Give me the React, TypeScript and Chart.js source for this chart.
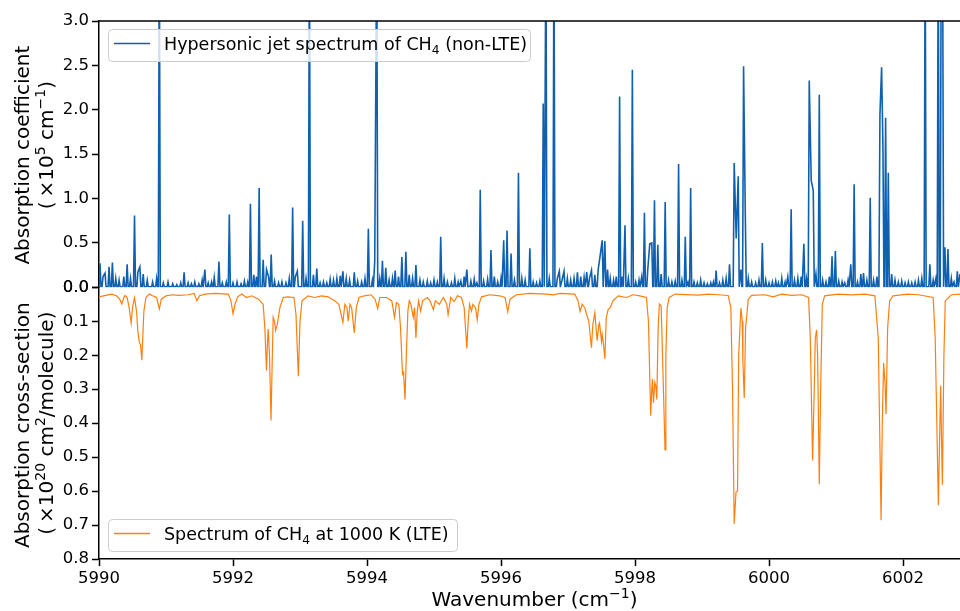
import { useEffect, useRef } from 'react';
import { Chart, registerables } from 'chart.js';

Chart.register(...registerables);

// ---- Hypersonic jet spectrum (non-LTE): line centres [cm^-1] and peak absorption [1e5 cm^-1]
const jetLinePositions: number[] = [
  5990.015, 5990.06, 5990.09, 5990.15, 5990.20, 5990.25, 5990.30, 5990.37, 5990.42, 5990.47, 5990.53, 5990.58, 5990.61, 5990.66, 5990.72, 5990.80, 5990.86, 5990.90, 5990.96,
  5991.03, 5991.10, 5991.16, 5991.22, 5991.27, 5991.33, 5991.38, 5991.43, 5991.49, 5991.54, 5991.58, 5991.63, 5991.68, 5991.72, 5991.79, 5991.84, 5991.90, 5991.945,
  5992.00, 5992.06, 5992.12, 5992.17, 5992.22, 5992.26, 5992.31, 5992.35, 5992.39, 5992.45, 5992.50, 5992.53, 5992.57, 5992.62, 5992.68, 5992.73, 5992.79, 5992.84, 5992.89, 5992.93, 5992.96,
  5993.04, 5993.09, 5993.14, 5993.20, 5993.25, 5993.30, 5993.35, 5993.40, 5993.45, 5993.50, 5993.55, 5993.60, 5993.64, 5993.69, 5993.74, 5993.81, 5993.86, 5993.92, 5993.97,
  5994.02, 5994.08, 5994.115, 5994.145, 5994.19, 5994.23, 5994.28, 5994.33, 5994.38, 5994.42, 5994.47, 5994.52, 5994.58, 5994.63, 5994.68, 5994.73, 5994.79, 5994.84, 5994.90, 5994.95,
  5995.00, 5995.05, 5995.10, 5995.15, 5995.20, 5995.26, 5995.31, 5995.36, 5995.40, 5995.45, 5995.49, 5995.55, 5995.60, 5995.64, 5995.69, 5995.74, 5995.80, 5995.85, 5995.90, 5995.95,
  5996.00, 5996.04, 5996.09, 5996.15, 5996.20, 5996.26, 5996.31, 5996.36, 5996.43, 5996.48, 5996.53, 5996.58, 5996.63, 5996.67, 5996.72, 5996.79, 5996.84, 5996.87, 5996.91, 5996.94, 5996.99,
  5997.04, 5997.09, 5997.14, 5997.19, 5997.24, 5997.28, 5997.32, 5997.35, 5997.40, 5997.45, 5997.48, 5997.51, 5997.55, 5997.59, 5997.63, 5997.68, 5997.72, 5997.77, 5997.81, 5997.85, 5997.90, 5997.96,
  5998.01, 5998.06, 5998.10, 5998.14, 5998.19, 5998.22, 5998.25, 5998.29, 5998.34, 5998.39, 5998.45, 5998.50, 5998.55, 5998.60, 5998.65, 5998.70, 5998.75, 5998.79, 5998.83, 5998.88, 5998.93, 5998.98,
  5999.03, 5999.08, 5999.13, 5999.17, 5999.21, 5999.26, 5999.31, 5999.36, 5999.41, 5999.48, 5999.51, 5999.54, 5999.58, 5999.62, 5999.645, 5999.69, 5999.74, 5999.80, 5999.85, 5999.90, 5999.95,
  6000.00, 6000.05, 6000.10, 6000.14, 6000.19, 6000.24, 6000.28, 6000.33, 6000.38, 6000.43, 6000.48, 6000.52, 6000.56, 6000.60, 6000.63, 6000.66, 6000.70, 6000.75, 6000.80, 6000.85, 6000.90, 6000.94, 6000.99,
  6001.04, 6001.09, 6001.13, 6001.18, 6001.22, 6001.27, 6001.32, 6001.37, 6001.41, 6001.46, 6001.51, 6001.56, 6001.61, 6001.655, 6001.68, 6001.70, 6001.74, 6001.78, 6001.83, 6001.88, 6001.93, 6001.98,
  6002.03, 6002.08, 6002.13, 6002.18, 6002.23, 6002.28, 6002.33, 6002.40, 6002.45, 6002.49, 6002.525, 6002.57, 6002.59, 6002.625, 6002.67, 6002.72, 6002.76, 6002.81, 6002.85,
];
const jetLineHeights: number[] = [
  0.27, 0.12, 0.16, 0.23, 0.28, 0.10, 0.08, 0.12, 0.26, 0.10, 0.81, 0.17, 0.23, 0.15, 0.08, 0.06, 0.10, 4.0, 0.05,
  0.06, 0.04, 0.03, 0.05, 0.17, 0.05, 0.04, 0.06, 0.04, 0.08, 0.20, 0.05, 0.06, 0.11, 0.29, 0.05, 0.06, 0.82,
  0.05, 0.06, 0.04, 0.07, 0.06, 0.94, 0.14, 0.12, 1.12, 0.31, 0.20, 0.12, 0.37, 0.07, 0.05, 0.06, 0.05, 0.10, 0.90, 0.12, 0.18,
  0.75, 0.10, 4.0, 0.14, 0.21, 0.05, 0.06, 0.05, 0.09, 0.08, 0.10, 0.13, 0.18, 0.10, 0.08, 0.17, 0.07, 0.06, 0.10,
  0.66, 0.08, 0.29, 4.0, 0.10, 0.30, 0.22, 0.08, 0.10, 0.19, 0.12, 0.34, 0.40, 0.14, 0.10, 0.25, 0.08, 0.06, 0.07, 0.05,
  0.08, 0.06, 0.57, 0.10, 0.06, 0.05, 0.10, 0.06, 0.07, 0.12, 0.20, 0.07, 0.09, 0.05, 1.10, 0.07, 0.09, 0.42, 0.12, 0.06,
  0.10, 0.53, 0.64, 0.38, 0.08, 1.29, 0.10, 0.08, 0.44, 0.06, 0.05, 0.07, 2.07, 4.0, 0.10, 4.0, 0.10, 0.18, 0.08, 0.18, 0.10,
  0.08, 0.10, 0.17, 0.12, 0.11, 0.17, 0.10, 0.19, 0.14, 0.20, 0.36, 0.53, 0.52, 0.20, 0.10, 0.08, 0.12, 2.15, 0.12, 0.70, 0.10, 2.45,
  0.06, 0.08, 0.12, 0.84, 0.20, 0.49, 0.50, 0.98, 0.48, 0.15, 0.96, 0.08, 0.06, 0.07, 1.39, 0.08, 0.57, 0.06, 1.12, 0.06, 0.05, 0.08,
  0.05, 0.04, 0.05, 0.06, 0.19, 0.05, 0.08, 0.10, 0.26, 1.40, 0.55, 1.25, 0.20, 2.49, 0.86, 0.10, 0.06, 0.05, 0.08, 0.50, 0.08,
  0.05, 0.06, 0.07, 0.05, 0.10, 0.06, 0.12, 0.88, 0.08, 0.10, 0.12, 0.49, 0.10, 2.33, 1.20, 1.09, 0.15, 2.17, 0.08, 0.06, 0.12, 0.35, 0.41,
  0.07, 0.06, 0.05, 0.08, 0.26, 1.16, 0.06, 0.15, 0.16, 0.08, 1.01, 0.08, 0.12, 1.94, 2.48, 1.58, 1.91, 1.29, 0.15, 0.08, 0.06, 0.07,
  0.05, 0.06, 0.05, 0.06, 0.08, 0.10, 4.0, 0.26, 0.08, 0.10, 4.0, 4.0, 4.0, 0.45, 0.43, 0.10, 0.06, 0.18, 0.15,
];
const jetFloor = 0.005;
const jetHalfWidth = 0.015;

// ---- CH4 at 1000 K (LTE): cross-section [1e-20 cm^2/molecule]
const lteWavenumbers: number[] = [
  5990.00, 5990.10, 5990.19, 5990.26, 5990.31, 5990.34, 5990.37, 5990.39,
  5990.42, 5990.45, 5990.48, 5990.50, 5990.53, 5990.56, 5990.58, 5990.60,
  5990.62, 5990.64, 5990.655, 5990.67, 5990.70, 5990.75, 5990.80, 5990.86,
  5990.90, 5990.93, 5991.00, 5991.10, 5991.18, 5991.33, 5991.42, 5991.46,
  5991.50, 5991.58, 5991.73, 5991.93, 5991.97, 5992.00, 5992.03, 5992.07,
  5992.13, 5992.20, 5992.28, 5992.38, 5992.45, 5992.475, 5992.50, 5992.515,
  5992.525, 5992.545, 5992.567, 5992.587, 5992.60, 5992.62, 5992.635, 5992.66,
  5992.70, 5992.75, 5992.82, 5992.91, 5992.94, 5992.975, 5993.00, 5993.03,
  5993.12, 5993.22, 5993.32, 5993.42, 5993.52, 5993.58, 5993.64, 5993.67,
  5993.70, 5993.72, 5993.745, 5993.77, 5993.81, 5993.84, 5993.88, 5993.96,
  5994.06, 5994.12, 5994.16, 5994.19, 5994.29, 5994.37, 5994.41, 5994.44,
  5994.475, 5994.50, 5994.53, 5994.545, 5994.567, 5994.59, 5994.61, 5994.63,
  5994.655, 5994.69, 5994.71, 5994.73, 5994.75, 5994.77, 5994.80, 5994.83,
  5994.90, 5994.94, 5994.99, 5995.02, 5995.08, 5995.14, 5995.19, 5995.21,
  5995.25, 5995.30, 5995.35, 5995.41, 5995.45, 5995.47, 5995.49, 5995.51,
  5995.53, 5995.56, 5995.58, 5995.62, 5995.645, 5995.67, 5995.71, 5995.83,
  5995.98, 5996.06, 5996.10, 5996.135, 5996.23, 5996.43, 5996.68, 5996.78,
  5996.88, 5997.10, 5997.15, 5997.18, 5997.21, 5997.25, 5997.27, 5997.31,
  5997.35, 5997.37, 5997.40, 5997.41, 5997.435, 5997.46, 5997.47, 5997.50,
  5997.51, 5997.53, 5997.55, 5997.57, 5997.60, 5997.63, 5997.67, 5997.75,
  5997.87, 5997.97, 5998.07, 5998.17, 5998.20, 5998.234, 5998.25, 5998.26,
  5998.275, 5998.295, 5998.31, 5998.325, 5998.345, 5998.363, 5998.39, 5998.41,
  5998.448, 5998.46, 5998.48, 5998.51, 5998.60, 5998.945, 5999.09, 5999.24,
  5999.39, 5999.43, 5999.455, 5999.48, 5999.507, 5999.53, 5999.547, 5999.58,
  5999.60, 5999.61, 5999.63, 5999.65, 5999.69, 5999.74, 5999.94, 6000.06,
  6000.19, 6000.34, 6000.49, 6000.59, 6000.616, 6000.65, 6000.675, 6000.69,
  6000.71, 6000.725, 6000.75, 6000.77, 6000.795, 6000.83, 6001.03, 6001.23,
  6001.43, 6001.58, 6001.63, 6001.672, 6001.69, 6001.71, 6001.73, 6001.746,
  6001.77, 6001.80, 6001.85, 6002.07, 6002.23, 6002.45, 6002.48, 6002.527,
  6002.55, 6002.562, 6002.57, 6002.587, 6002.61, 6002.63, 6002.72, 6002.85,
];
const lteCrossSections: number[] = [
  0.028, 0.024, 0.020, 0.025, 0.035, 0.049, 0.030, 0.024,
  0.030, 0.060, 0.105, 0.060, 0.031, 0.070, 0.130, 0.160,
  0.170, 0.215, 0.140, 0.070, 0.030, 0.020, 0.025, 0.030,
  0.064, 0.035, 0.025, 0.022, 0.024, 0.022, 0.018, 0.040,
  0.025, 0.020, 0.018, 0.020, 0.040, 0.078, 0.050, 0.028,
  0.020, 0.030, 0.025, 0.035, 0.050, 0.120, 0.245, 0.160,
  0.123, 0.200, 0.392, 0.200, 0.088, 0.100, 0.127, 0.110,
  0.060, 0.030, 0.028, 0.030, 0.080, 0.262, 0.100, 0.040,
  0.025, 0.030, 0.025, 0.028, 0.040, 0.050, 0.103, 0.050,
  0.060, 0.100, 0.050, 0.060, 0.134, 0.060, 0.030, 0.025,
  0.022, 0.035, 0.063, 0.030, 0.030, 0.040, 0.088, 0.045,
  0.050, 0.120, 0.255, 0.250, 0.330, 0.180, 0.070, 0.040,
  0.050, 0.088, 0.060, 0.149, 0.070, 0.040, 0.070, 0.040,
  0.030, 0.040, 0.066, 0.040, 0.050, 0.030, 0.050, 0.080,
  0.030, 0.042, 0.025, 0.030, 0.060, 0.120, 0.180, 0.100,
  0.050, 0.070, 0.050, 0.060, 0.096, 0.050, 0.028, 0.022,
  0.025, 0.030, 0.072, 0.035, 0.022, 0.018, 0.020, 0.022,
  0.018, 0.020, 0.040, 0.071, 0.050, 0.060, 0.075, 0.100,
  0.178, 0.110, 0.075, 0.100, 0.157, 0.110, 0.105, 0.160,
  0.140, 0.170, 0.210, 0.090, 0.065, 0.060, 0.040, 0.025,
  0.030, 0.022, 0.025, 0.030, 0.100, 0.378, 0.300, 0.270,
  0.340, 0.280, 0.290, 0.330, 0.120, 0.049, 0.055, 0.200,
  0.479, 0.200, 0.060, 0.030, 0.020, 0.023, 0.020, 0.022,
  0.024, 0.060, 0.300, 0.696, 0.603, 0.600, 0.200, 0.061,
  0.100, 0.220, 0.326, 0.120, 0.035, 0.024, 0.022, 0.028,
  0.020, 0.024, 0.022, 0.030, 0.150, 0.510, 0.300, 0.150,
  0.125, 0.200, 0.580, 0.300, 0.050, 0.025, 0.020, 0.022,
  0.020, 0.025, 0.150, 0.686, 0.400, 0.223, 0.280, 0.373,
  0.120, 0.040, 0.025, 0.020, 0.022, 0.030, 0.150, 0.642,
  0.400, 0.289, 0.400, 0.581, 0.200, 0.040, 0.022, 0.020,
];

// ---- Axis ticks
const xTickValues = [5990, 5992, 5994, 5996, 5998, 6000, 6002];
const topTickValues = [0, 0.5, 1.0, 1.5, 2.0, 2.5, 3.0];
const bottomTickValues = [0, 0.1, 0.2, 0.3, 0.4, 0.5, 0.6, 0.7, 0.8];

const X_MIN = 5990;
const X_MAX = 6002.85;

const FONT = '"DejaVu Sans", "Liberation Sans", sans-serif';
const JET_COLOR = '#1060b0';
const LTE_COLOR = '#ff7f0e';
const TICK_SIZE = 16.5;
const TITLE_SIZE = 20;
const LEGEND_SIZE = 17.5;

type Run = { text: string; shift?: 'sup' | 'sub' };

const topTitle1: Run[] = [{ text: 'Absorption coefficient' }];
const topTitle2: Run[] = [
  { text: '(\u2009×10' }, { text: '5', shift: 'sup' }, { text: ' cm' }, { text: '−1', shift: 'sup' }, { text: ')' },
];
const bottomTitle1: Run[] = [{ text: 'Absorption cross-section' }];
const bottomTitle2: Run[] = [
  { text: '(\u2009×10' }, { text: '20', shift: 'sup' }, { text: ' cm' }, { text: '2', shift: 'sup' }, { text: '/molecule)' },
];
const xTitle: Run[] = [{ text: 'Wavenumber (cm' }, { text: '−1', shift: 'sup' }, { text: ')' }];
const jetLegend: Run[] = [{ text: 'Hypersonic jet spectrum of CH' }, { text: '4', shift: 'sub' }, { text: ' (non-LTE)' }];
const lteLegend: Run[] = [{ text: 'Spectrum of CH' }, { text: '4', shift: 'sub' }, { text: ' at 1000 K (LTE)' }];

// Each jet line becomes a narrow spike rising from the floor; closely spaced lines are joined directly.
function jetTrace() {
  const pts: { x: number; y: number }[] = [];
  const n = jetLinePositions.length;
  for (let i = 0; i < n; i++) {
    const x = jetLinePositions[i];
    const gapPrev = i === 0 ? Infinity : x - jetLinePositions[i - 1];
    const gapNext = i === n - 1 ? Infinity : jetLinePositions[i + 1] - x;
    if (gapPrev > 0.034) pts.push({ x: x - jetHalfWidth, y: jetFloor });
    pts.push({ x, y: jetLineHeights[i] });
    if (gapNext > 0.034) pts.push({ x: x + jetHalfWidth, y: jetFloor });
  }
  return pts;
}

function lteTrace() {
  return lteWavenumbers.map((x, i) => ({ x, y: lteCrossSections[i] }));
}

function drawRuns(ctx: CanvasRenderingContext2D, runs: Run[], x: number, y: number, size: number, align: 'left' | 'center') {
  const fontFor = (r: Run) => `${r.shift ? size * 0.7 : size}px ${FONT}`;
  let total = 0;
  for (const r of runs) {
    ctx.font = fontFor(r);
    total += ctx.measureText(r.text).width;
  }
  let cx = align === 'center' ? x - total / 2 : x;
  ctx.textAlign = 'left';
  ctx.textBaseline = 'alphabetic';
  for (const r of runs) {
    ctx.font = fontFor(r);
    const dy = r.shift === 'sup' ? -size * 0.4 : r.shift === 'sub' ? size * 0.2 : 0;
    ctx.fillText(r.text, cx, y + dy);
    cx += ctx.measureText(r.text).width;
  }
}

function drawLegend(
  ctx: CanvasRenderingContext2D,
  box: { x: number; y: number; w: number; h: number },
  color: string,
  lineY: number,
  textY: number,
  runs: Run[],
) {
  ctx.save();
  ctx.beginPath();
  ctx.roundRect(box.x + 0.5, box.y + 0.5, box.w, box.h, 4);
  ctx.fillStyle = 'rgba(255,255,255,0.8)';
  ctx.fill();
  ctx.strokeStyle = '#cccccc';
  ctx.lineWidth = 1;
  ctx.stroke();
  ctx.beginPath();
  ctx.moveTo(114, lineY);
  ctx.lineTo(150, lineY);
  ctx.strokeStyle = color;
  ctx.lineWidth = 1.5;
  ctx.stroke();
  ctx.fillStyle = '#000';
  drawRuns(ctx, runs, 164, textY, LEGEND_SIZE, 'left');
  ctx.restore();
}

const decorations = {
  id: 'spectrumDecorations',
  afterDraw(chart: Chart) {
    const { ctx, chartArea } = chart;
    ctx.save();
    // top frame line
    ctx.beginPath();
    ctx.moveTo(chartArea.left, chartArea.top);
    ctx.lineTo(chartArea.right, chartArea.top);
    ctx.strokeStyle = '#000';
    ctx.lineWidth = 1.5;
    ctx.stroke();

    ctx.fillStyle = '#000';
    const yTop = chart.scales.yTop;
    const yBot = chart.scales.yBot;
    const topMid = (yTop.top + yTop.bottom) / 2;
    const botMid = (yBot.top + yBot.bottom) / 2;

    const rotated = (runs: Run[], x: number, y: number) => {
      ctx.save();
      ctx.translate(x, y);
      ctx.rotate(-Math.PI / 2);
      drawRuns(ctx, runs, 0, 0, TITLE_SIZE, 'center');
      ctx.restore();
    };
    rotated(topTitle1, 29, topMid + 1);
    rotated(topTitle2, 53, topMid - 9);
    rotated(bottomTitle1, 29, botMid + 2);
    rotated(bottomTitle2, 53, botMid);

    drawRuns(ctx, xTitle, (chartArea.left + chartArea.right) / 2 + 5, 606, TITLE_SIZE, 'center');

    drawLegend(ctx, { x: 108, y: 29, w: 422, h: 32 }, JET_COLOR, 43.5, 50, jetLegend);
    drawLegend(ctx, { x: 108, y: 519, w: 349, h: 32 }, LTE_COLOR, 533.5, 540, lteLegend);
    ctx.restore();
  },
};

export default function App() {
  const canvasRef = useRef<HTMLCanvasElement | null>(null);

  useEffect(() => {
    const canvas = canvasRef.current;
    if (!canvas) return;

    const tickFont = { family: FONT, size: TICK_SIZE };
    const gridStyle = { drawOnChartArea: false, tickLength: 7, tickWidth: 1.5, tickColor: '#000' };
    const borderStyle = { color: '#000', width: 1.5 };
    const fixed1 = (v: number | string) => Number(v).toFixed(1);

    const chart = new Chart(canvas, {
      type: 'line',
      data: {
        datasets: [
          {
            label: 'Hypersonic jet spectrum of CH₄ (non-LTE)',
            data: jetTrace(),
            borderColor: JET_COLOR,
            borderWidth: 1.6,
            pointRadius: 0,
            tension: 0,
            xAxisID: 'x',
            yAxisID: 'yTop',
          },
          {
            label: 'Spectrum of CH₄ at 1000 K (LTE)',
            data: lteTrace(),
            borderColor: LTE_COLOR,
            borderWidth: 1.2,
            pointRadius: 0,
            tension: 0,
            xAxisID: 'x',
            yAxisID: 'yBot',
          },
        ],
      },
      options: {
        responsive: false,
        animation: false,
        events: [],
        devicePixelRatio: 1,
        layout: { padding: { top: 21, left: 0, right: 0, bottom: 0 } },
        plugins: { legend: { display: false }, tooltip: { enabled: false } },
        scales: {
          x: {
            type: 'linear',
            position: 'bottom',
            min: X_MIN,
            max: X_MAX,
            afterBuildTicks: (s: any) => { s.ticks = xTickValues.map((value) => ({ value })); },
            afterFit: (s: any) => { s.height = 52; },
            ticks: { font: tickFont, color: '#000', padding: 3, maxRotation: 0, autoSkip: false, callback: (v: any) => String(v) },
            grid: gridStyle,
            border: borderStyle,
          },
          yBot: {
            type: 'linear',
            position: 'left',
            stack: 'panels',
            stackWeight: 272,
            reverse: true,
            min: 0,
            max: 0.8,
            afterBuildTicks: (s: any) => { s.ticks = bottomTickValues.map((value) => ({ value })); },
            afterFit: (s: any) => { s.width = 99; },
            ticks: { font: tickFont, color: '#000', padding: 3, autoSkip: false, callback: fixed1 },
            grid: gridStyle,
            border: borderStyle,
          },
          yTop: {
            type: 'linear',
            position: 'left',
            stack: 'panels',
            stackWeight: 266.6,
            min: 0,
            max: 3,
            afterBuildTicks: (s: any) => { s.ticks = topTickValues.map((value) => ({ value })); },
            afterFit: (s: any) => { s.width = 99; },
            ticks: { font: tickFont, color: '#000', padding: 3, autoSkip: false, callback: fixed1 },
            grid: gridStyle,
            border: borderStyle,
          },
        },
      } as any,
      plugins: [decorations],
    });

    return () => chart.destroy();
  }, []);

  return (
    <div style={{ position: 'absolute', left: 0, top: 0, width: 960, height: 611, background: '#fff' }}>
      <canvas ref={canvasRef} width={960} height={611} style={{ display: 'block', width: 960, height: 611 }} />
    </div>
  );
}
